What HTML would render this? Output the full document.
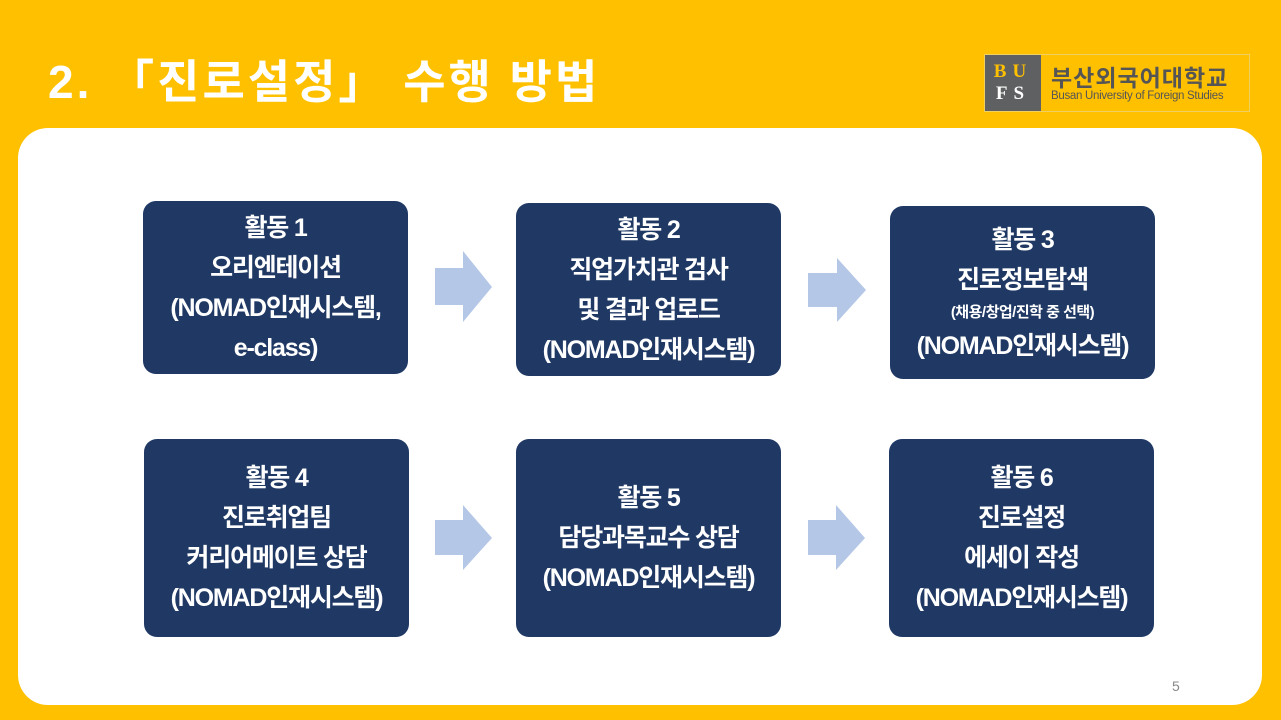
<!DOCTYPE html>
<html><head><meta charset="utf-8"><style>
body{margin:0;width:1281px;height:720px;background:#FFC000;position:relative;overflow:hidden;font-family:"Liberation Sans","Noto Sans CJK KR",sans-serif}
.title{position:absolute;left:48px;top:46px;font-size:46px;font-weight:bold;color:#fff;letter-spacing:3px;white-space:nowrap}
.panel{position:absolute;left:18px;top:128px;width:1244px;height:577px;background:#fff;border-radius:30px}
.box{position:absolute;background:#1F3864;border-radius:13px;color:#fff;display:flex;flex-direction:column;justify-content:center;align-items:center;text-align:center;font-size:25px;line-height:40px;font-weight:bold;letter-spacing:-1.2px;white-space:nowrap}
.box .s{font-size:15px;line-height:26px;letter-spacing:-0.5px}
.arrow{position:absolute}
.logo{position:absolute;left:984px;top:54px;width:264px;height:56px;border:1px solid #f0d060}
.bufs{position:absolute;left:0;top:0;width:56px;height:56px;background:#5f6062;color:#FFC000;font-family:"Liberation Serif",serif;font-weight:bold;font-size:19px;line-height:22px;text-align:center;padding-top:6px;box-sizing:border-box;letter-spacing:6px}
.bufs span{color:#fff}
.kn{position:absolute;left:66px;top:4px;font-size:23px;font-weight:bold;color:#555;letter-spacing:1px;white-space:nowrap}
.en{position:absolute;left:66px;top:35px;font-size:11.5px;color:#555;white-space:nowrap;letter-spacing:-0.3px}
.pg{position:absolute;left:1172px;top:678px;font-size:14px;color:#888}
</style></head><body>
<div class="title">2. 「진로설정」 수행 방법</div>
<div class="logo"><div class="bufs">BU<br><span>FS</span></div><div class="kn">부산외국어대학교</div><div class="en">Busan University of Foreign Studies</div></div>
<div class="panel"></div>
<div class="box" style="left:143px;top:201px;width:265px;height:173px">활동 1<br>오리엔테이션<br>(NOMAD인재시스템,<br>e-class)</div>
<div class="box" style="left:516px;top:203px;width:265px;height:173px">활동 2<br>직업가치관 검사<br>및 결과 업로드<br>(NOMAD인재시스템)</div>
<div class="box" style="left:890px;top:206px;width:265px;height:173px">활동 3<br>진로정보탐색<br><span class="s">(채용/창업/진학 중 선택)</span>(NOMAD인재시스템)</div>
<div class="box" style="left:144px;top:439px;width:265px;height:198px">활동 4<br>진로취업팀<br>커리어메이트 상담<br>(NOMAD인재시스템)</div>
<div class="box" style="left:516px;top:439px;width:265px;height:198px">활동 5<br>담당과목교수 상담<br>(NOMAD인재시스템)</div>
<div class="box" style="left:889px;top:439px;width:265px;height:198px">활동 6<br>진로설정<br>에세이 작성<br>(NOMAD인재시스템)</div>
<svg class="arrow" style="left:0;top:0" width="1281" height="720">
<g fill="#B4C7E7">
<polygon points="435,268 463,268 463,251 492,287 463,322 463,305 435,305"/>
<polygon points="808,273 837,273 837,258 866,290 837,322 837,307 808,307"/>
<polygon points="435,520 463,520 463,505 492,538 463,570 463,555 435,555"/>
<polygon points="808,520 836,520 836,505 865,538 836,570 836,555 808,555"/>
</g></svg>
<div class="pg">5</div>
</body></html>
